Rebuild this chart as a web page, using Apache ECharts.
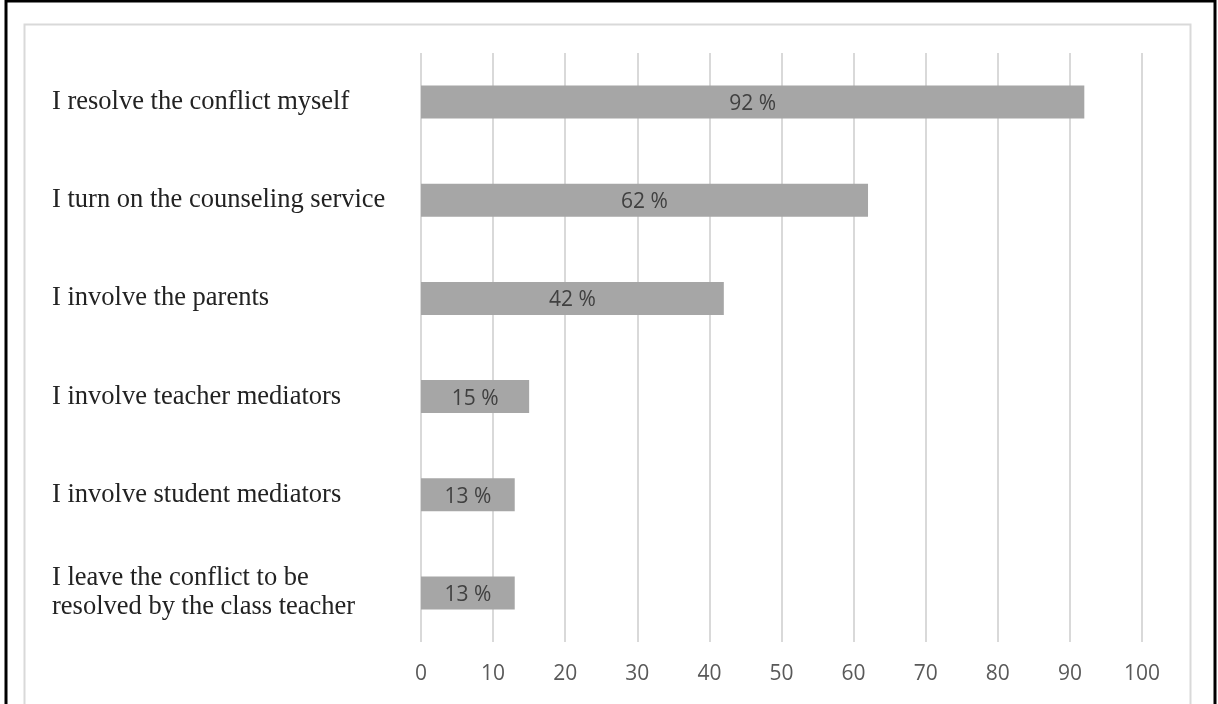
<!DOCTYPE html>
<html>
<head>
<meta charset="utf-8">
<script src="https://cdn.jsdelivr.net/npm/echarts@6/dist/echarts.min.js"></script>
<style>
html,body{margin:0;padding:0;background:#fff;}
#chart{width:1218px;height:704px;}
</style>
</head>
<body>
<div id="chart"></div>
<script>
const categories = [
  "I resolve the conflict myself",
  "I turn on the counseling service",
  "I involve the parents",
  "I involve teacher mediators",
  "I involve student mediators",
  "I leave the conflict to be\nresolved by the class teacher"
];
const values = [92, 62, 42, 15, 13, 13];
const xTicks = [0, 10, 20, 30, 40, 50, 60, 70, 80, 90, 100];

const chart = echarts.init(document.getElementById('chart'), null, {renderer: 'canvas'});
chart.setOption({
  animation: false,
  backgroundColor: '#ffffff',
  graphic: [
    {type: 'rect', shape: {x: 6, y: 1, width: 1209, height: 710}, style: {fill: 'none', stroke: '#000', lineWidth: 3}, silent: true},
    {type: 'rect', shape: {x: 24.5, y: 24.5, width: 1166, height: 690}, style: {fill: 'none', stroke: '#d9d9d9', lineWidth: 2}, silent: true}
  ],
  grid: {left: 421, right: 76, top: 53, bottom: 62, containLabel: false},
  xAxis: {
    type: 'value', min: 0, max: 100, interval: 10,
    axisLine: {show: false}, axisTick: {show: false},
    splitLine: {show: true, lineStyle: {color: '#d9d9d9', width: 2}},
    axisLabel: {
      margin: 22, fontFamily: 'Open Sans', fontSize: 21, color: '#595959',
      formatter: v => xTicks.includes(v) ? String(v) : ''
    }
  },
  yAxis: {
    type: 'category', data: categories, inverse: true,
    axisLine: {show: false}, axisTick: {show: false}, splitLine: {show: false},
    axisLabel: {
      align: 'left', margin: 369, fontFamily: 'Liberation Serif', fontSize: 26.5,
      color: '#222', lineHeight: 29
    }
  },
  series: [{
    type: 'bar', data: values, barWidth: 33,
    itemStyle: {color: '#a6a6a6'},
    label: {
      show: true, position: 'inside', offset: [0, 2], formatter: p => p.value + ' %',
      fontFamily: 'Open Sans', fontSize: 21, color: '#404040'
    }
  }]
});
</script>
</body>
</html>
